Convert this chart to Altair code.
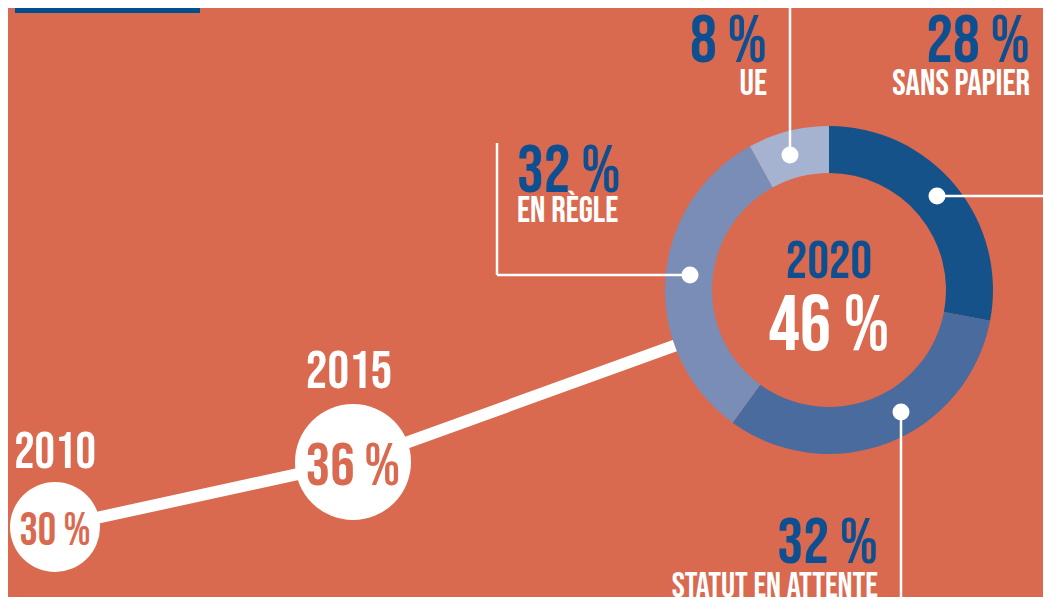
import altair as alt
import pandas as pd

# ---------------- data ----------------
years = [2010, 2015, 2020]
rates = [30, 36, 46]
year_labels = ["2010", "2015", "2020"]
rate_labels = ["30 %", "36 %", "46 %"]

status_names = ["SANS PAPIER", "STATUT EN ATTENTE", "EN RÈGLE", "UE"]
status_shares = [28, 32, 32, 8]
status_labels = ["28 %", "32 %", "32 %", "8 %"]
status_colors = ["#16528A", "#4A6B9E", "#7A8DB6", "#A6B3D0"]

# ---------------- style ----------------
BG = "#D96A4F"
BLUE = "#0D4F90"
WHITE = "#FFFFFF"
FONT = "'Bebas Neue', 'Roboto Condensed', sans-serif"
W, H = 1035, 589

df_pts = pd.DataFrame({"year": years, "rate": rates,
                       "ylab": year_labels, "rlab": rate_labels})
df_ring = pd.DataFrame({
    "year": [years[-1]] * len(status_names),
    "rate": [rates[-1]] * len(status_names),
    "name": status_names,
    "share": status_shares,
    "idx": list(range(len(status_names))),
})

XS = alt.Scale(domain=years, range=[47, 345, 821], zero=False, nice=False)
YS = alt.Scale(domain=rates, range=[519, 454, 282], zero=False, nice=False)
X = alt.X("year:Q", scale=XS, axis=None)
Y = alt.Y("rate:Q", scale=YS, axis=None)

base = alt.Chart(df_pts)

line = base.mark_line(color=WHITE, strokeWidth=12).encode(x=X, y=Y)

# symbol size = (diameter)^2
circles = base.transform_filter("datum.year < 2020").mark_circle(
    color=WHITE, opacity=1).encode(
    x=X, y=Y,
    size=alt.Size("rate:Q", scale=alt.Scale(domain=rates[:2],
                                            range=[(2 * 45) ** 2, (2 * 58) ** 2]),
                  legend=None),
)

disk = base.transform_filter("datum.year == 2020").mark_circle(
    color=BG, opacity=1, size=(2 * 118) ** 2).encode(x=X, y=Y)

ring = alt.Chart(df_ring).mark_arc(radius=164, radius2=117).encode(
    x=X, y=Y,
    theta=alt.Theta("share:Q", stack=True),
    color=alt.Color("name:N", scale=alt.Scale(domain=status_names, range=status_colors),
                    legend=None),
    order=alt.Order("idx:Q"),
)


def pt_text(year, field, color, size, dy, dx=0):
    return base.transform_filter(f"datum.year == {year}").mark_text(
        font=FONT, fontWeight="normal", fontSize=size, color=color,
        align="center", baseline="alphabetic", dy=dy, dx=dx).encode(
        x=X, y=Y, text=f"{field}:N")


pt_texts = [
    pt_text(2010, "ylab", WHITE, 51, -59),
    pt_text(2010, "rlab", BG, 46, 18),
    pt_text(2015, "ylab", WHITE, 54, -74, -4),
    pt_text(2015, "rlab", BG, 61, 23),
    pt_text(2020, "ylab", BLUE, 54, -12),
    pt_text(2020, "rlab", WHITE, 78, 60),
]

df_lab = pd.DataFrame({"name": status_names, "pct": status_labels})


def lab_text(name, field, color, size, x, y, align):
    return alt.Chart(df_lab).transform_filter(
        alt.datum.name == name).mark_text(
        font=FONT, fontWeight="normal", fontSize=size, color=color,
        align=align, baseline="alphabetic").encode(
        x=alt.value(x), y=alt.value(y), text=f"{field}:N")


lab_texts = [
    lab_text("UE", "pct", BLUE, 67, 759, 54, "right"),
    lab_text("UE", "name", WHITE, 36, 759, 87, "right"),
    lab_text("SANS PAPIER", "pct", BLUE, 67, 1022, 54, "right"),
    lab_text("SANS PAPIER", "name", WHITE, 36, 1022, 87, "right"),
    lab_text("EN RÈGLE", "pct", BLUE, 67, 509, 184, "left"),
    lab_text("EN RÈGLE", "name", WHITE, 36, 509, 214, "left"),
    lab_text("STATUT EN ATTENTE", "pct", BLUE, 65, 870, 555, "right"),
    lab_text("STATUT EN ATTENTE", "name", WHITE, 35, 870, 589, "right"),
]

one = pd.DataFrame({"k": [0]})


def rule(x1, y1, x2, y2):
    return alt.Chart(one).mark_rule(color=WHITE, strokeWidth=2.5).encode(
        x=alt.value(x1), y=alt.value(y1), x2=alt.value(x2), y2=alt.value(y2))


def dot(x, y):
    return alt.Chart(one).mark_circle(color=WHITE, opacity=1, size=17 ** 2).encode(
        x=alt.value(x), y=alt.value(y))


leaders = [
    rule(782, 0, 782, 147), dot(782, 147),
    rule(929, 188, W, 188), dot(929, 188),
    rule(489, 267, 682, 267), rule(489, 135, 489, 267), dot(682, 267),
    rule(893, 404, 893, H), dot(893, 404),
]

top_rect = alt.Chart(one).mark_rect(color="#00508F").encode(
    x=alt.value(7), x2=alt.value(192), y=alt.value(0), y2=alt.value(5))

chart = alt.layer(
    top_rect, line, circles, disk, ring, *leaders, *pt_texts, *lab_texts
).properties(
    width=W, height=H, padding=0, autosize=alt.AutoSizeParams(type="none"),
    background=BG,
).configure_view(stroke=None)

chart.save("out.html", embed_options={"renderer": "svg", "actions": False})
